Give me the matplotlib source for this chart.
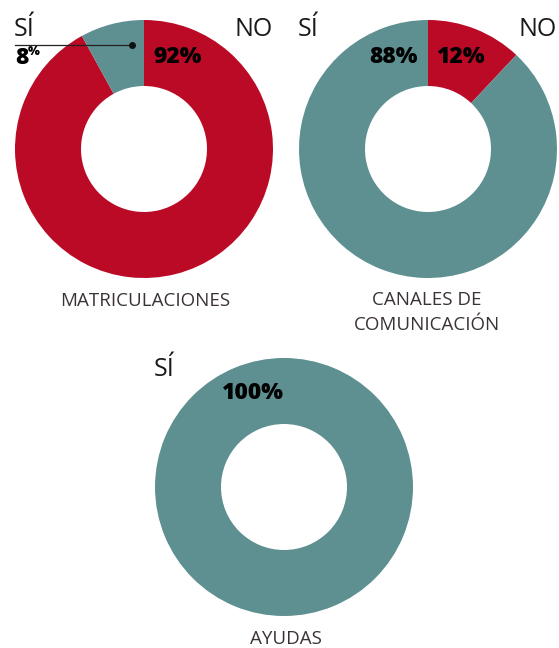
import matplotlib.pyplot as plt

# datos de cada anillo: [NO, SÍ]
matriculaciones = [92, 8]
canales = [12, 88]
ayudas = [0, 100]
titulos = ["MATRICULACIONES", "CANALES DE\nCOMUNICACIÓN", "AYUDAS"]

ROJO = "#BA0A25"
VERDE = "#5E9092"
H = 648

plt.rcParams['font.family'] = ['Open Sans', 'DejaVu Sans']

fig = plt.figure(figsize=(5.59, 6.48), dpi=100)
ax = fig.add_axes([0, 0, 1, 1])


def anillo(valores, cx, cy):
    ax.pie(valores, colors=[ROJO, VERDE], startangle=90, counterclock=False,
           center=(cx, H - cy), radius=129, frame=True,
           wedgeprops=dict(width=66, linewidth=0))


anillo(matriculaciones, 144, 149)
anillo(canales, 428, 149)
anillo(ayudas, 284, 487)

ax.set_xlim(0, 559)
ax.set_ylim(0, H)
ax.set_aspect('equal')
ax.axis('off')

ligera = dict(fontsize=18, fontweight='normal', color='#1a1a1a', va='center')
negrita = dict(fontsize=16.5, fontweight=800, color='#000000', va='center')

# anillo 1
ax.text(14, H - 30, "SÍ", ha='left', **ligera)
ax.text(273, H - 30, "NO", ha='right', **ligera)
ax.text(15, H - 58, "8", ha='left', **negrita)
ax.text(28, H - 52, "%", ha='left', fontsize=9, fontweight=800, color='#000000', va='center')
ax.text(153, H - 57, f"{matriculaciones[0]}%", ha='left', **negrita)
ax.plot([15, 132], [H - 45, H - 45], color='#222222', lw=0.9)
ax.plot([132], [H - 45], 'o', color='#111111', ms=4)

# anillo 2
ax.text(418, H - 57, f"{canales[1]}%", ha='right', **negrita)
ax.text(436, H - 57, f"{canales[0]}%", ha='left', **negrita)
ax.text(298, H - 30, "SÍ", ha='left', **ligera)
ax.text(557, H - 30, "NO", ha='right', **ligera)

# anillo 3
ax.text(154, H - 369, "SÍ", ha='left', **ligera)
ax.text(221, H - 393, f"{ayudas[1]}%", ha='left', **negrita)

# titulos
tit = dict(fontsize=13.5, fontweight='normal', color='#3b3333', ha='center', va='center')
ax.text(145, H - 301, titulos[0], **tit)
linea1, linea2 = titulos[1].split("\n")
ax.text(427, H - 300, linea1, **tit)
ax.text(427, H - 325, linea2, **tit)
ax.text(286, H - 639, titulos[2], **tit)

fig.savefig("out.png", dpi=100, facecolor='white')
